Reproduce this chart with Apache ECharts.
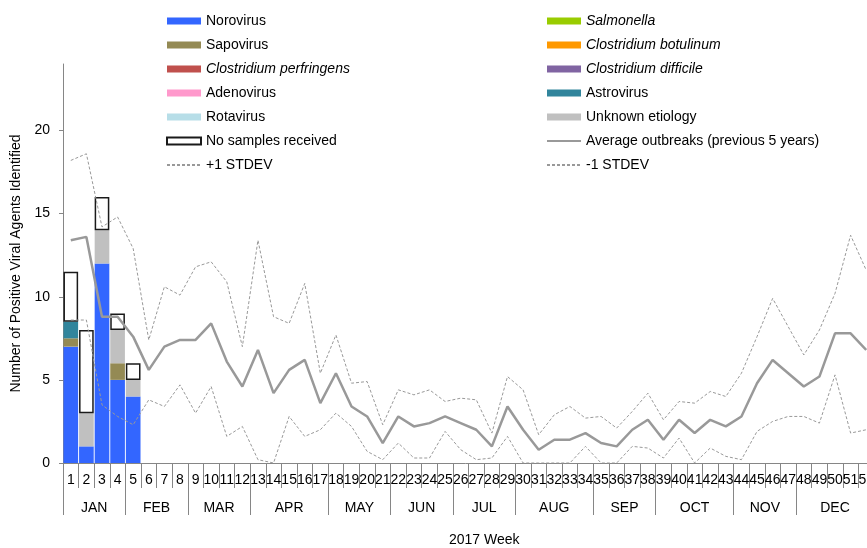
<!DOCTYPE html>
<html>
<head>
<meta charset="utf-8">
<script src="https://cdn.jsdelivr.net/npm/echarts@6/dist/echarts.min.js"></script>
<style>
  html, body { margin: 0; padding: 0; background: #fff; }
  #chart { width: 867px; height: 548px; }
</style>
</head>
<body>
<div id="chart"></div>
<script>
// Week tick labels (2017 surveillance weeks)
const weekLabels = ['1','2','3','4','5','6','7','8','9','10','11','12','13','14','15','16','17','18','19','20',
  '21','22','23','24','25','26','27','28','29','30','31','32','33','34','35','36','37','38','39','40',
  '41','42','43','44','45','46','47','48','49','50','51','52'];

// Month labels and the week boundaries that separate them
const monthLabels = ['JAN','FEB','MAR','APR','MAY','JUN','JUL','AUG','SEP','OCT','NOV','DEC'];
const monthBounds = [0, 4, 8, 12, 17, 21, 25, 29, 34, 38, 43, 47, 52];

// Positive agents identified per week (weeks reported so far)
const norovirus     = [7, 1, 12, 5, 4];
const sapovirus     = [0.5, 0, 0, 1, 0];
const cPerfringens  = [0, 0, 0, 0, 0];
const adenovirus    = [0, 0, 0, 0, 0];
const rotavirus     = [0, 0, 0, 0, 0];
const salmonella    = [0, 0, 0, 0, 0];
const cBotulinum    = [0, 0, 0, 0, 0];
const cDifficile    = [0, 0, 0, 0, 0];
const astrovirus    = [1, 0, 0, 0, 0];
const unknown       = [0, 2, 2, 2, 1];
const noSamples     = [3, 5, 2, 1, 1];

// Average outbreaks over the previous 5 years, and +/- 1 standard deviation
const average = [13.4,13.6,8.8,8.8,7.6,5.6,7.0,7.4,7.4,8.4,6.1,4.6,6.8,4.2,5.6,6.2,3.6,5.4,3.4,2.8,
  1.2,2.8,2.2,2.4,2.8,2.4,2.0,1.0,3.4,2.0,0.8,1.4,1.4,1.8,1.2,1.0,2.0,2.6,1.4,2.6,
  1.8,2.6,2.2,2.8,4.8,6.2,5.4,4.6,5.2,7.8,7.8,6.8];
const plusOneSd = [18.2,18.6,14.2,14.8,12.9,7.4,10.6,10.1,11.8,12.1,10.9,7.0,13.4,8.8,8.4,10.8,5.4,7.7,4.8,4.9,
  2.3,4.4,4.1,4.4,3.7,3.9,3.8,1.8,5.2,4.4,1.7,2.9,3.4,2.7,2.8,2.1,3.1,4.2,2.6,3.7,
  3.6,4.3,4.0,5.4,7.6,9.9,8.2,6.5,8.0,10.2,13.7,11.6];
const minusOneSd = [8.6,8.6,3.5,2.8,2.3,3.8,3.4,4.7,3.0,4.6,1.6,2.2,0.2,0,2.8,1.6,2.0,3.0,2.2,0.7,
  0.2,1.2,0.3,0.3,1.9,0.8,0.2,0.3,1.6,0,0,0,0,1.0,0,0,1.0,0.9,0.3,1.5,
  0,0.9,0.4,0.2,1.9,2.5,2.8,2.8,2.4,5.3,1.8,2.0];

const yTicks = [0, 5, 10, 15, 20];

const FONT = 'Liberation Sans, Arial, Helvetica, sans-serif';
const AXIS_GREY = '#868686';
const LINE_GREY = '#999999';
const italicNames = ['Salmonella', 'Clostridium botulinum', 'Clostridium perfringens', 'Clostridium difficile'];
const lineNames = ['Average outbreaks (previous 5 years)', '+1 STDEV', '-1 STDEV'];

const monthCenters = monthLabels.map((m, i) => (monthBounds[i] + monthBounds[i + 1]) / 2);

function barSeries(name, data, color, extra) {
  return Object.assign({
    name: name,
    type: 'bar',
    stack: 'agents',
    data: data,
    barCategoryGap: '6%',
    itemStyle: { color: color },
    emphasis: { disabled: true }
  }, extra || {});
}

function lineSeries(name, data, width, dash) {
  return {
    name: name,
    type: 'line',
    data: data,
    symbol: 'none',
    z: 5,
    lineStyle: { color: LINE_GREY, width: width, type: dash ? [3, 2] : 'solid' },
    itemStyle: { color: LINE_GREY },
    emphasis: { disabled: true }
  };
}

const legendCommon = {
  orient: 'vertical',
  top: 13,
  padding: 0,
  itemWidth: 34,
  itemHeight: 7,
  itemGap: 8,
  selectedMode: false,
  textStyle: {
    fontFamily: FONT, fontSize: 14, color: '#000', lineHeight: 16,
    rich: { i: { fontFamily: FONT, fontSize: 14, fontStyle: 'italic', color: '#000', lineHeight: 16 } }
  },
  formatter: name => italicNames.indexOf(name) >= 0 ? '{i|' + name + '}' : name
};

// Bar entries get a plain rectangle; line entries show only their stroke
function legendItem(name) {
  return lineNames.indexOf(name) >= 0
    ? { name: name, itemStyle: { opacity: 0 } }
    : { name: name, icon: 'rect' };
}

const option = {
  animation: false,
  backgroundColor: '#fff',
  title: {
    text: '2017 Week',
    left: 449,
    top: 533,
    padding: 0,
    textStyle: { fontFamily: FONT, fontSize: 14, fontWeight: 'normal', color: '#000' }
  },
  legend: [
    Object.assign({}, legendCommon, {
      left: 166,
      data: ['Norovirus', 'Sapovirus', 'Clostridium perfringens', 'Adenovirus', 'Rotavirus',
             'No samples received', '+1 STDEV'].map(legendItem)
    }),
    Object.assign({}, legendCommon, {
      left: 546,
      data: ['Salmonella', 'Clostridium botulinum', 'Clostridium difficile', 'Astrovirus',
             'Unknown etiology', 'Average outbreaks (previous 5 years)', '-1 STDEV'].map(legendItem)
    })
  ],
  grid: { left: 63, top: 64, width: 811, bottom: 85, containLabel: false, outerBoundsMode: 'none' },
  xAxis: [
    {
      type: 'category',
      data: weekLabels,
      position: 'bottom',
      boundaryGap: true,
      axisLine: { lineStyle: { color: AXIS_GREY, width: 1 } },
      axisTick: { show: true, length: 25, interval: 0, lineStyle: { color: AXIS_GREY } },
      axisLabel: { interval: 0, margin: 10, fontFamily: FONT, fontSize: 14, color: '#000', hideOverlap: false },
      splitLine: { show: false }
    },
    {
      type: 'value',
      position: 'bottom',
      min: 0,
      max: 52,
      axisLine: { show: false },
      axisTick: { show: true, length: 52, customValues: monthBounds, lineStyle: { color: AXIS_GREY } },
      axisLabel: {
        customValues: monthCenters,
        margin: 38,
        fontFamily: FONT, fontSize: 14, color: '#000',
        formatter: v => monthLabels[monthCenters.indexOf(v)] || ''
      },
      splitLine: { show: false }
    }
  ],
  yAxis: {
    type: 'value',
    min: 0,
    max: 24,
    name: 'Number of Positive Viral Agents Identified',
    nameLocation: 'middle',
    nameGap: 40,
    nameTextStyle: { fontFamily: FONT, fontSize: 14, color: '#000' },
    axisLine: { show: true, lineStyle: { color: AXIS_GREY, width: 1 } },
    axisTick: { show: true, length: 4, customValues: yTicks, lineStyle: { color: AXIS_GREY } },
    axisLabel: { customValues: yTicks, margin: 13, fontFamily: FONT, fontSize: 14, color: '#000' },
    splitLine: { show: false }
  },
  series: [
    barSeries('Norovirus', norovirus, '#3366FF'),
    barSeries('Sapovirus', sapovirus, '#948A54'),
    barSeries('Clostridium perfringens', cPerfringens, '#C0504D'),
    barSeries('Adenovirus', adenovirus, '#FF99CC'),
    barSeries('Rotavirus', rotavirus, '#B7DEE8'),
    barSeries('Salmonella', salmonella, '#99CC00'),
    barSeries('Clostridium botulinum', cBotulinum, '#FF9900'),
    barSeries('Clostridium difficile', cDifficile, '#8064A2'),
    barSeries('Astrovirus', astrovirus, '#31859C'),
    barSeries('Unknown etiology', unknown, '#C0C0C0'),
    barSeries('No samples received', noSamples, '#FFFFFF', {
      itemStyle: { color: '#FFFFFF', borderColor: '#1a1a1a', borderWidth: 1.5 }
    }),
    lineSeries('Average outbreaks (previous 5 years)', average, 2.5, false),
    lineSeries('+1 STDEV', plusOneSd, 1, true),
    lineSeries('-1 STDEV', minusOneSd, 1, true)
  ]
};

const chart = echarts.init(document.getElementById('chart'), null, { renderer: 'canvas' });
chart.setOption(option);
</script>
</body>
</html>
